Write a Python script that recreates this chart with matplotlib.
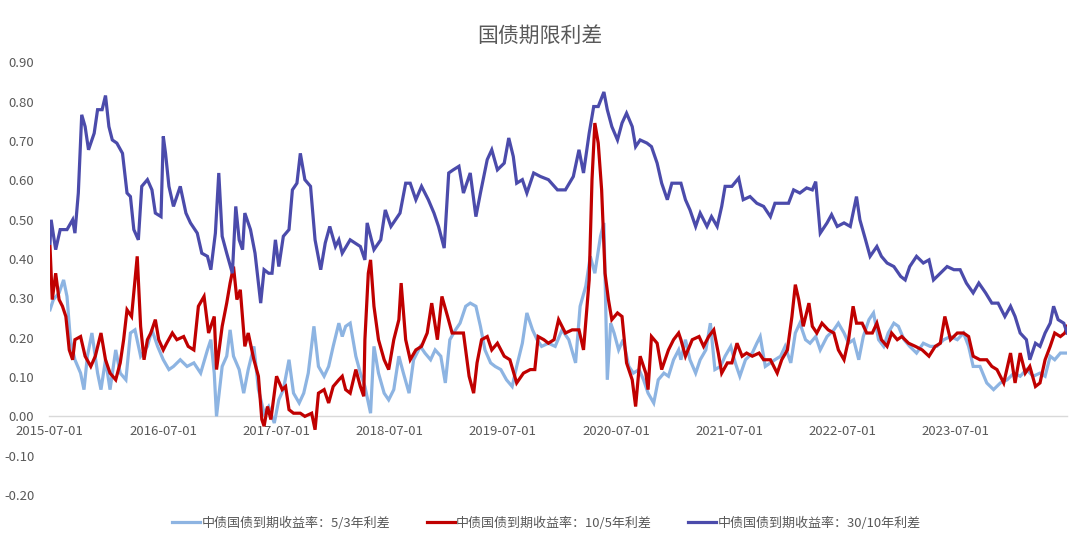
import numpy as np
import pandas as pd
import matplotlib
matplotlib.use("Agg")
import matplotlib.pyplot as plt
import matplotlib.dates as mdates
from matplotlib.ticker import FormatStrFormatter

plt.rcParams['font.family'] = ['Noto Sans CJK SC', 'DejaVu Sans']

TITLE = "国债期限利差"
LABELS = ["中债国债到期收益率：5/3年利差",
          "中债国债到期收益率：10/5年利差",
          "中债国债到期收益率：30/10年利差"]
COLORS = ["#8DB4E2", "#C00000", "#4B4BAB"]
X_TICKS = ["2015-07-01", "2016-07-01", "2017-07-01", "2018-07-01", "2019-07-01",
           "2020-07-01", "2021-07-01", "2022-07-01", "2023-07-01"]
X_END = "2024-06-24"

# ---- 5/3 spread (decimal year, value) ----
t_53 = [2015.50, 2015.53, 2015.58, 2015.62, 2015.65, 2015.68, 2015.72, 2015.77, 2015.80, 2015.83,
        2015.87, 2015.92, 2015.95, 2015.99, 2016.03, 2016.08, 2016.12, 2016.17, 2016.21, 2016.25,
        2016.30, 2016.36, 2016.40, 2016.45, 2016.50, 2016.55, 2016.59, 2016.65, 2016.71, 2016.77,
        2016.83, 2016.89, 2016.92, 2016.95, 2016.97, 2017.02, 2017.06, 2017.09, 2017.12, 2017.17,
        2017.21, 2017.25, 2017.30, 2017.34, 2017.39, 2017.43, 2017.48, 2017.52, 2017.56, 2017.61,
        2017.65, 2017.70, 2017.74, 2017.78, 2017.83, 2017.87, 2017.92, 2017.96, 2018.00, 2018.05,
        2018.08, 2018.11, 2018.15, 2018.20, 2018.24, 2018.28, 2018.33, 2018.36, 2018.40, 2018.45,
        2018.49, 2018.535, 2018.58, 2018.62, 2018.67, 2018.71, 2018.77, 2018.81, 2018.86, 2018.90,
        2018.95, 2018.99, 2019.03, 2019.08, 2019.12, 2019.17, 2019.21, 2019.26, 2019.30, 2019.34,
        2019.39, 2019.43, 2019.48, 2019.53, 2019.58, 2019.62, 2019.67, 2019.71, 2019.76, 2019.80,
        2019.84, 2019.90, 2019.96, 2020.02, 2020.08, 2020.14, 2020.18, 2020.23, 2020.27, 2020.31,
        2020.36, 2020.39, 2020.42, 2020.45, 2020.48, 2020.52, 2020.56, 2020.61, 2020.65, 2020.70,
        2020.74, 2020.78, 2020.83, 2020.87, 2020.92, 2020.96, 2021.005, 2021.05, 2021.07, 2021.11,
        2021.15, 2021.20, 2021.24, 2021.29, 2021.33, 2021.37, 2021.42, 2021.46, 2021.51, 2021.55,
        2021.59, 2021.64, 2021.70, 2021.74, 2021.77, 2021.815, 2021.86, 2021.90, 2021.95, 2021.99,
        2022.04, 2022.08, 2022.12, 2022.17, 2022.21, 2022.26, 2022.30, 2022.36, 2022.42, 2022.46,
        2022.51, 2022.55, 2022.595, 2022.64, 2022.68, 2022.73, 2022.77, 2022.815, 2022.86, 2022.90,
        2022.95, 2022.99, 2023.04, 2023.09, 2023.15, 2023.21, 2023.27, 2023.33, 2023.39, 2023.45,
        2023.51, 2023.565, 2023.61, 2023.65, 2023.71, 2023.77, 2023.83, 2023.89, 2023.95, 2024.01,
        2024.065, 2024.12, 2024.18, 2024.24, 2024.285, 2024.33, 2024.37, 2024.42, 2024.48]
v_53 = [0.271, 0.297, 0.314, 0.347, 0.305, 0.195, 0.144, 0.110, 0.068, 0.153,
        0.212, 0.110, 0.068, 0.144, 0.068, 0.169, 0.110, 0.093, 0.212, 0.220,
        0.153, 0.178, 0.220, 0.178, 0.144, 0.119, 0.127, 0.144, 0.127, 0.136,
        0.110, 0.169, 0.195, 0.110, 0.000, 0.127, 0.153, 0.220, 0.153, 0.119,
        0.059, 0.119, 0.178, 0.068, 0.008, 0.025, -0.017, 0.042, 0.068, 0.144,
        0.059, 0.034, 0.059, 0.110, 0.229, 0.127, 0.102, 0.127, 0.178, 0.237,
        0.203, 0.229, 0.237, 0.153, 0.110, 0.076, 0.008, 0.178, 0.110, 0.059,
        0.042, 0.068, 0.153, 0.110, 0.059, 0.144, 0.178, 0.161, 0.144, 0.169,
        0.153, 0.085, 0.195, 0.220, 0.237, 0.280, 0.288, 0.280, 0.229, 0.169,
        0.136, 0.127, 0.119, 0.093, 0.076, 0.127, 0.186, 0.263, 0.220, 0.195,
        0.178, 0.186, 0.178, 0.220, 0.195, 0.136, 0.280, 0.331, 0.407, 0.364,
        0.458, 0.492, 0.093, 0.237, 0.212, 0.169, 0.195, 0.127, 0.110, 0.119,
        0.093, 0.059, 0.034, 0.093, 0.110, 0.102, 0.144, 0.169, 0.144, 0.195,
        0.144, 0.110, 0.144, 0.169, 0.237, 0.119, 0.127, 0.153, 0.178, 0.136,
        0.102, 0.144, 0.161, 0.186, 0.203, 0.127, 0.136, 0.144, 0.153, 0.178,
        0.136, 0.212, 0.237, 0.195, 0.186, 0.203, 0.169, 0.203, 0.220, 0.237,
        0.212, 0.186, 0.195, 0.144, 0.203, 0.246, 0.263, 0.195, 0.178, 0.212,
        0.237, 0.229, 0.195, 0.178, 0.161, 0.186, 0.178, 0.178, 0.195, 0.203,
        0.195, 0.212, 0.178, 0.127, 0.127, 0.085, 0.068, 0.085, 0.093, 0.110,
        0.102, 0.119, 0.102, 0.110, 0.102, 0.153, 0.144, 0.161, 0.161]

# ---- 10/5 spread ----
t_105 = [2015.50, 2015.52, 2015.55, 2015.58, 2015.61, 2015.64, 2015.67, 2015.70, 2015.72, 2015.77,
         2015.81, 2015.86, 2015.90, 2015.95, 2015.99, 2016.03, 2016.08, 2016.12, 2016.15, 2016.18,
         2016.22, 2016.27, 2016.30, 2016.33, 2016.36, 2016.39, 2016.43, 2016.46, 2016.50, 2016.53,
         2016.58, 2016.62, 2016.68, 2016.72, 2016.77, 2016.81, 2016.86, 2016.90, 2016.95, 2016.97,
         2017.02, 2017.06, 2017.09, 2017.12, 2017.15, 2017.18, 2017.22, 2017.25, 2017.30, 2017.34,
         2017.37, 2017.39, 2017.42, 2017.45, 2017.48, 2017.50, 2017.55, 2017.58, 2017.61, 2017.65,
         2017.71, 2017.75, 2017.81, 2017.84, 2017.87, 2017.92, 2017.96, 2018.00, 2018.05, 2018.08,
         2018.11, 2018.15, 2018.20, 2018.24, 2018.27, 2018.28, 2018.31, 2018.33, 2018.36, 2018.40,
         2018.45, 2018.49, 2018.535, 2018.58, 2018.60, 2018.64, 2018.68, 2018.73, 2018.78, 2018.83,
         2018.87, 2018.92, 2018.96, 2019.01, 2019.05, 2019.09, 2019.15, 2019.20, 2019.24, 2019.27,
         2019.31, 2019.36, 2019.40, 2019.45, 2019.51, 2019.56, 2019.62, 2019.68, 2019.74, 2019.78,
         2019.81, 2019.86, 2019.90, 2019.95, 2019.99, 2020.05, 2020.11, 2020.17, 2020.21, 2020.26,
         2020.285, 2020.31, 2020.34, 2020.37, 2020.40, 2020.43, 2020.46, 2020.51, 2020.55, 2020.59,
         2020.64, 2020.67, 2020.71, 2020.76, 2020.78, 2020.81, 2020.86, 2020.90, 2020.96, 2021.005,
         2021.05, 2021.07, 2021.11, 2021.17, 2021.23, 2021.27, 2021.315, 2021.36, 2021.40, 2021.43,
         2021.48, 2021.52, 2021.565, 2021.61, 2021.65, 2021.70, 2021.76, 2021.80, 2021.86, 2021.92,
         2021.96, 2022.01, 2022.05, 2022.08, 2022.11, 2022.15, 2022.20, 2022.23, 2022.27, 2022.315,
         2022.37, 2022.42, 2022.46, 2022.51, 2022.55, 2022.59, 2022.62, 2022.67, 2022.71, 2022.76,
         2022.80, 2022.84, 2022.89, 2022.93, 2022.98, 2023.02, 2023.08, 2023.14, 2023.20, 2023.26,
         2023.315, 2023.36, 2023.40, 2023.45, 2023.51, 2023.565, 2023.61, 2023.65, 2023.71, 2023.77,
         2023.815, 2023.86, 2023.92, 2023.98, 2024.02, 2024.065, 2024.11, 2024.15, 2024.20, 2024.24,
         2024.285, 2024.33, 2024.37, 2024.42, 2024.46, 2024.48]
v_105 = [0.432, 0.297, 0.364, 0.297, 0.280, 0.254, 0.169, 0.144, 0.195, 0.203,
         0.153, 0.127, 0.153, 0.212, 0.144, 0.110, 0.093, 0.136, 0.195, 0.271,
         0.254, 0.407, 0.229, 0.144, 0.195, 0.212, 0.246, 0.195, 0.169, 0.186,
         0.212, 0.195, 0.203, 0.178, 0.169, 0.280, 0.305, 0.212, 0.254, 0.119,
         0.229, 0.288, 0.339, 0.381, 0.297, 0.322, 0.178, 0.212, 0.144, 0.102,
         -0.008, -0.025, 0.025, -0.008, 0.059, 0.102, 0.068, 0.076, 0.017, 0.008,
         0.008, 0.000, 0.008, -0.034, 0.059, 0.068, 0.034, 0.076, 0.093, 0.102,
         0.068, 0.059, 0.119, 0.076, 0.051, 0.195, 0.364, 0.398, 0.280, 0.195,
         0.144, 0.119, 0.195, 0.246, 0.339, 0.195, 0.144, 0.169, 0.178, 0.212,
         0.288, 0.195, 0.305, 0.254, 0.212, 0.212, 0.212, 0.102, 0.059, 0.136,
         0.195, 0.203, 0.169, 0.186, 0.153, 0.144, 0.085, 0.110, 0.119, 0.119,
         0.203, 0.195, 0.186, 0.195, 0.246, 0.212, 0.220, 0.220, 0.169, 0.347,
         0.602, 0.746, 0.695, 0.576, 0.364, 0.297, 0.246, 0.263, 0.254, 0.136,
         0.093, 0.025, 0.153, 0.110, 0.068, 0.203, 0.186, 0.119, 0.169, 0.195,
         0.212, 0.195, 0.153, 0.195, 0.203, 0.178, 0.203, 0.220, 0.161, 0.110,
         0.136, 0.136, 0.186, 0.153, 0.161, 0.153, 0.161, 0.144, 0.144, 0.110,
         0.144, 0.169, 0.254, 0.335, 0.297, 0.229, 0.288, 0.229, 0.212, 0.237,
         0.220, 0.212, 0.169, 0.144, 0.195, 0.280, 0.237, 0.237, 0.212, 0.212,
         0.237, 0.195, 0.178, 0.212, 0.195, 0.203, 0.186, 0.178, 0.169, 0.153,
         0.178, 0.186, 0.254, 0.195, 0.212, 0.212, 0.203, 0.153, 0.144, 0.144,
         0.127, 0.119, 0.085, 0.161, 0.085, 0.161, 0.110, 0.127, 0.076, 0.085,
         0.144, 0.178, 0.212, 0.203, 0.212, 0.229]

# ---- 30/10 spread ----
t_3010 = [2015.50, 2015.51, 2015.55, 2015.59, 2015.65, 2015.70, 2015.72, 2015.75, 2015.78, 2015.81,
          2015.84, 2015.89, 2015.92, 2015.96, 2015.99, 2016.02, 2016.05, 2016.09, 2016.14, 2016.18,
          2016.21, 2016.24, 2016.28, 2016.31, 2016.36, 2016.40, 2016.43, 2016.48, 2016.50, 2016.52,
          2016.55, 2016.59, 2016.65, 2016.70, 2016.74, 2016.80, 2016.84, 2016.89, 2016.92, 2016.96,
          2016.99, 2017.02, 2017.06, 2017.11, 2017.14, 2017.17, 2017.20, 2017.22, 2017.27, 2017.31,
          2017.36, 2017.39, 2017.43, 2017.46, 2017.49, 2017.52, 2017.56, 2017.61, 2017.64, 2017.68,
          2017.71, 2017.75, 2017.80, 2017.84, 2017.89, 2017.93, 2017.97, 2018.02, 2018.05, 2018.08,
          2018.15, 2018.24, 2018.28, 2018.30, 2018.36, 2018.42, 2018.46, 2018.51, 2018.55, 2018.59,
          2018.64, 2018.68, 2018.73, 2018.78, 2018.84, 2018.89, 2018.93, 2018.98, 2019.02, 2019.06,
          2019.11, 2019.15, 2019.21, 2019.26, 2019.30, 2019.36, 2019.40, 2019.45, 2019.51, 2019.55,
          2019.59, 2019.62, 2019.67, 2019.71, 2019.77, 2019.83, 2019.90, 2019.98, 2020.05, 2020.12,
          2020.17, 2020.21, 2020.26, 2020.30, 2020.34, 2020.39, 2020.42, 2020.46, 2020.51, 2020.55,
          2020.59, 2020.64, 2020.67, 2020.71, 2020.77, 2020.81, 2020.86, 2020.90, 2020.95, 2020.99,
          2021.05, 2021.07, 2021.11, 2021.15, 2021.20, 2021.24, 2021.30, 2021.34, 2021.39, 2021.43,
          2021.46, 2021.52, 2021.58, 2021.62, 2021.68, 2021.74, 2021.80, 2021.86, 2021.90, 2021.95,
          2022.02, 2022.065, 2022.12, 2022.18, 2022.23, 2022.26, 2022.30, 2022.36, 2022.40, 2022.45,
          2022.51, 2022.565, 2022.62, 2022.65, 2022.70, 2022.74, 2022.80, 2022.84, 2022.89, 2022.95,
          2023.01, 2023.05, 2023.09, 2023.15, 2023.21, 2023.26, 2023.30, 2023.36, 2023.42, 2023.48,
          2023.535, 2023.59, 2023.65, 2023.70, 2023.76, 2023.815, 2023.87, 2023.93, 2023.98, 2024.02,
          2024.065, 2024.12, 2024.15, 2024.20, 2024.24, 2024.285, 2024.33, 2024.36, 2024.40, 2024.45,
          2024.48]
v_3010 = [0.440, 0.500, 0.424, 0.475, 0.475, 0.500, 0.466, 0.568, 0.767, 0.737,
          0.678, 0.720, 0.780, 0.780, 0.816, 0.737, 0.703, 0.695, 0.669, 0.568,
          0.559, 0.475, 0.449, 0.585, 0.602, 0.576, 0.517, 0.508, 0.712, 0.669,
          0.585, 0.534, 0.585, 0.517, 0.492, 0.466, 0.415, 0.407, 0.373, 0.466,
          0.619, 0.458, 0.415, 0.364, 0.534, 0.449, 0.424, 0.517, 0.475, 0.415,
          0.288, 0.373, 0.364, 0.364, 0.449, 0.381, 0.458, 0.475, 0.576, 0.593,
          0.669, 0.602, 0.585, 0.449, 0.373, 0.441, 0.483, 0.432, 0.449, 0.415,
          0.449, 0.432, 0.398, 0.492, 0.424, 0.449, 0.525, 0.483, 0.500, 0.517,
          0.593, 0.593, 0.551, 0.585, 0.551, 0.517, 0.483, 0.428, 0.619, 0.627,
          0.636, 0.568, 0.619, 0.508, 0.568, 0.653, 0.678, 0.627, 0.644, 0.708,
          0.661, 0.593, 0.602, 0.568, 0.619, 0.610, 0.602, 0.576, 0.576, 0.610,
          0.678, 0.619, 0.720, 0.788, 0.788, 0.825, 0.780, 0.737, 0.703, 0.746,
          0.771, 0.737, 0.686, 0.703, 0.695, 0.686, 0.644, 0.593, 0.551, 0.593,
          0.593, 0.593, 0.551, 0.525, 0.483, 0.517, 0.483, 0.508, 0.483, 0.534,
          0.585, 0.585, 0.606, 0.551, 0.559, 0.542, 0.534, 0.508, 0.542, 0.542,
          0.542, 0.576, 0.568, 0.581, 0.576, 0.597, 0.466, 0.492, 0.513, 0.483,
          0.492, 0.483, 0.559, 0.500, 0.449, 0.407, 0.432, 0.407, 0.390, 0.381,
          0.356, 0.347, 0.381, 0.407, 0.390, 0.398, 0.347, 0.364, 0.381, 0.373,
          0.373, 0.339, 0.314, 0.339, 0.314, 0.288, 0.288, 0.254, 0.280, 0.254,
          0.212, 0.195, 0.144, 0.186, 0.178, 0.212, 0.237, 0.280, 0.246, 0.237,
          0.212]


def to_dates(years):
    years = np.asarray(years, dtype=float)
    base = pd.Timestamp("2015-01-01")
    return base + pd.to_timedelta((years - 2015.0) * 365.25, unit="D")


fig = plt.figure(figsize=(10.8, 5.43), dpi=100)
ax = fig.add_axes([49.5 / 1080, 1 - 495 / 543, (1067 - 49.5) / 1080, (495 - 62.5) / 543])

series = [(t_53, v_53), (t_105, v_105), (t_3010, v_3010)]
for (t, v), lab, col in zip(series, LABELS, COLORS):
    ax.plot(to_dates(t), v, color=col, lw=2.3, label=lab, solid_joinstyle="miter")

ax.set_ylim(-0.2, 0.9)
ax.set_yticks(np.arange(-0.2, 0.91, 0.1))
ax.yaxis.set_major_formatter(FormatStrFormatter("%.2f"))
ax.set_xlim(pd.Timestamp(X_TICKS[0]), pd.Timestamp(X_END))
ax.set_xticks([pd.Timestamp(d) for d in X_TICKS])
ax.set_xticklabels(X_TICKS)

for s in ["top", "right", "left"]:
    ax.spines[s].set_visible(False)
ax.spines["bottom"].set_position(("data", 0))
ax.spines["bottom"].set_color("#D9D9D9")
ax.spines["bottom"].set_linewidth(1.0)
ax.spines["bottom"].set_zorder(0)
ax.tick_params(axis="both", length=0, colors="#595959", labelsize=9.5)
ax.tick_params(axis="y", pad=11)
ax.tick_params(axis="x", pad=6)

fig.suptitle(TITLE, y=0.955, fontsize=15, color="#595959")

leg = fig.legend(loc="center", bbox_to_anchor=(0.506, 0.036), ncol=3, frameon=False,
                 fontsize=9.4, handlelength=2.15, columnspacing=2.8, handletextpad=0.1,
                 labelcolor="#595959")

fig.savefig("out.png", dpi=100)
